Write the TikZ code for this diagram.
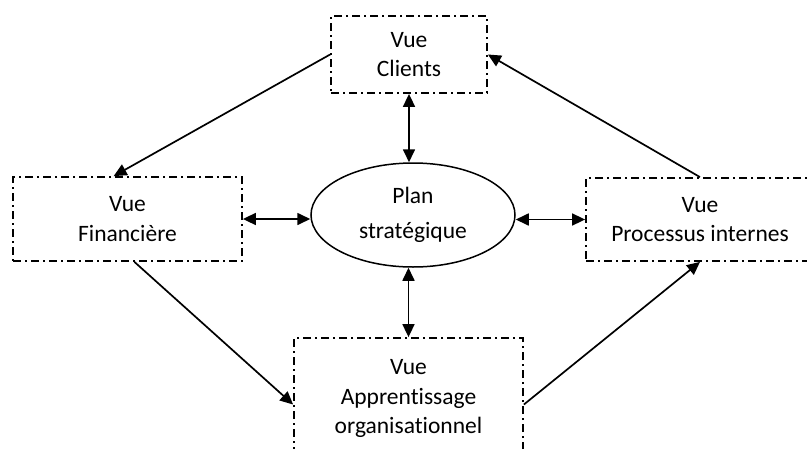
\documentclass[tikz,border=0pt]{standalone}
\usepackage{fontspec}
\setmainfont[Ligatures=NoCommon]{Carlito}
\usetikzlibrary{arrows.meta,calc,shapes.geometric}

\tikzset{
  view/.style={draw, line width=1.8pt, dash pattern=on 8pt off 4pt on 2pt off 4pt,
    align=center, inner sep=0pt, font=\fontsize{23.5}{29.5}\selectfont},
  planshape/.style={draw, ellipse, line width=1.5pt, inner sep=0pt, align=center,
    font=\fontsize{23.5}{29.5}\selectfont},
  tip/.tip={Triangle[length=13pt,width=12pt]},
  link/.style={line width=1.7pt, -tip},
  bilink/.style={line width=1.7pt, tip-tip}
}

\begin{document}
\begin{tikzpicture}[x=1pt,y=-1pt]
  \useasboundingbox (0,0) rectangle (807,448);

  % perspectives
  \node[view, minimum width=156pt, minimum height=77pt] (clients) at (409,54.5) {Vue\\Clients};
  \node[view, minimum width=229pt, minimum height=84pt] (fin) at (127.5,219) {Vue\\Financière};
  \node[view, minimum width=228pt, minimum height=83pt] (proc) at (700,219.5) {Vue\\Processus internes};
  \node[view, minimum width=229pt, minimum height=117pt, text depth=0pt] (app) at (408.5,396.5)
    {Vue\\Apprentissage\\organisationnel\rule[-12pt]{0pt}{0pt}};

  % strategy at the centre
  \node[planshape, minimum width=204pt, minimum height=104pt] (plan) at (413,215)
    {Plan\\[5pt]stratégique};

  % cycle between the perspectives
  \draw[link] (clients.west) -- ($(fin.north west)!0.44!(fin.north east)$);
  \draw[link] ($(fin.south west)!0.53!(fin.south east)$) -- ([yshift=-8pt]app.west);
  \draw[link] ([yshift=-8pt]app.east) -- (proc.south);
  \draw[link] (proc.north) -- (clients.east);

  % links with the strategic plan
  \draw[bilink] (clients.south) -- (clients.south |- plan.north);
  \draw[bilink] (app.north |- plan.south) -- (app.north);
  \draw[bilink] (fin.east) -- (fin.east -| plan.west);
  \draw[bilink] (proc.west -| plan.east) -- (proc.west);
\end{tikzpicture}
\end{document}
